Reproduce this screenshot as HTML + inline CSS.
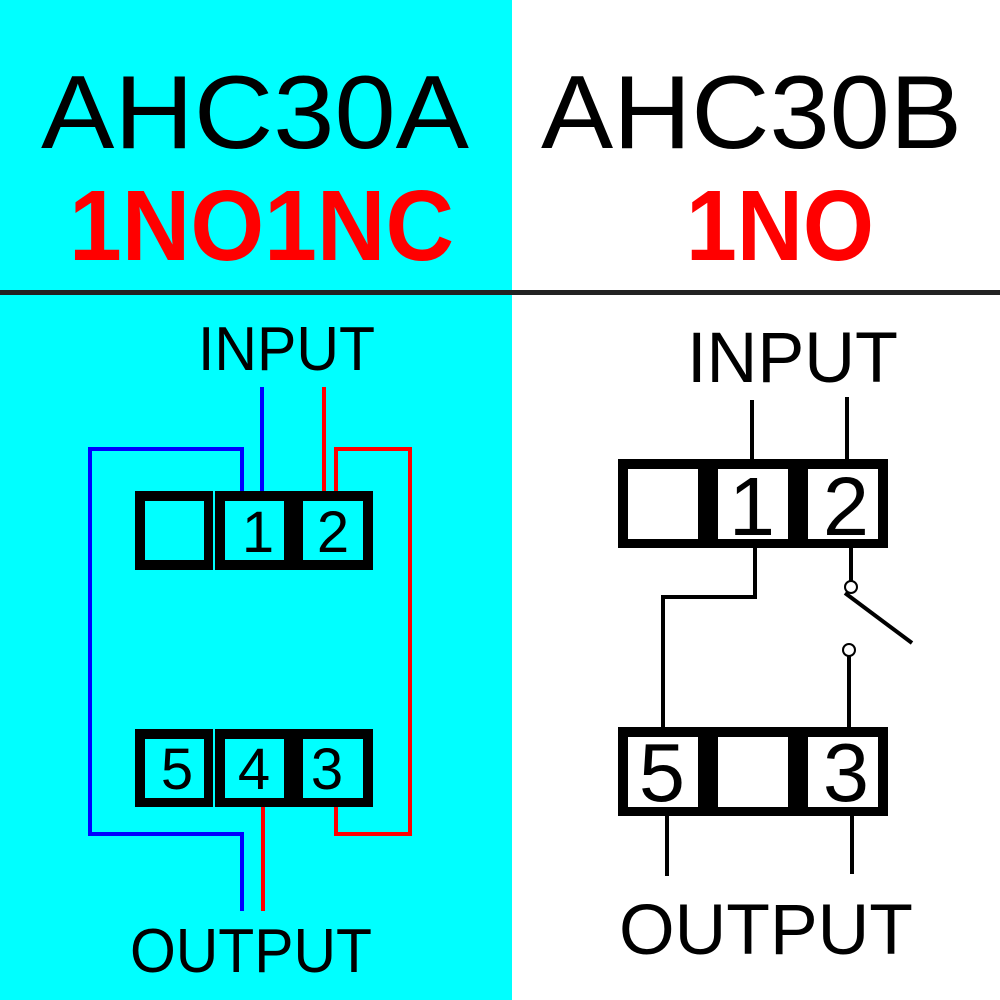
<!DOCTYPE html>
<html><head><meta charset="utf-8"><style>html,body{margin:0;padding:0;background:#fff}svg{display:block}</style></head>
<body>
<svg width="1000" height="1000" viewBox="0 0 1000 1000" xmlns="http://www.w3.org/2000/svg" font-family="Liberation Sans, Arial, sans-serif">
<rect x="0" y="0" width="512" height="1000" fill="#00ffff"/>
<rect x="0" y="290" width="1000" height="5" fill="#222"/>
<text x="41" y="148" font-size="104" textLength="428" lengthAdjust="spacingAndGlyphs">AHC30A</text>
<text x="541" y="148" font-size="104" textLength="421" lengthAdjust="spacingAndGlyphs">AHC30B</text>
<text x="69" y="260" font-size="100" font-weight="bold" fill="#ff0000" textLength="385" lengthAdjust="spacingAndGlyphs">1NO1NC</text>
<text x="686" y="260" font-size="100" font-weight="bold" fill="#ff0000" textLength="188" lengthAdjust="spacingAndGlyphs">1NO</text>

<!-- Left diagram -->
<text x="198" y="370" font-size="62" textLength="177" lengthAdjust="spacingAndGlyphs">INPUT</text>
<text x="130" y="972" font-size="62" textLength="242" lengthAdjust="spacingAndGlyphs">OUTPUT</text>
<g fill="none" stroke-width="4">
<polyline points="242,491 242,449 90,449 90,834 242,834 242,911" stroke="#0000ff"/>
<line x1="262" y1="387" x2="262" y2="491" stroke="#0000ff"/>
<line x1="324" y1="387" x2="324" y2="491" stroke="#ff0000"/>
<polyline points="336,491 336,449 410,449 410,834 336,834 336,807" stroke="#ff0000"/>
<line x1="263" y1="807" x2="263" y2="911" stroke="#ff0000"/>
</g>
<rect x="135" y="491" width="238" height="79" fill="#000"/>
<rect x="213" y="491" width="2" height="79" fill="#00ffff"/>
<rect x="145" y="501" width="59" height="59" fill="#00ffff"/>
<rect x="225" y="501" width="59" height="59" fill="#00ffff"/>
<rect x="303" y="501" width="60" height="59" fill="#00ffff"/>
<text x="258" y="552" font-size="58" text-anchor="middle">1</text>
<text x="333" y="552" font-size="58" text-anchor="middle">2</text>
<rect x="135" y="729" width="238" height="78" fill="#000"/>
<rect x="213" y="729" width="2" height="78" fill="#00ffff"/>
<rect x="145" y="739" width="59" height="59" fill="#00ffff"/>
<rect x="225" y="739" width="59" height="59" fill="#00ffff"/>
<rect x="303" y="739" width="60" height="59" fill="#00ffff"/>
<text x="177" y="789" font-size="58" text-anchor="middle">5</text>
<text x="254" y="789" font-size="58" text-anchor="middle">4</text>
<text x="327" y="789" font-size="58" text-anchor="middle">3</text>

<!-- Right diagram -->
<text x="687" y="382" font-size="71" textLength="211" lengthAdjust="spacingAndGlyphs">INPUT</text>
<text x="619" y="954" font-size="71" textLength="294" lengthAdjust="spacingAndGlyphs">OUTPUT</text>
<g stroke="#000" stroke-width="4" fill="none">
<line x1="752" y1="400" x2="752" y2="459"/>
<line x1="847" y1="397" x2="847" y2="459"/>
<polyline points="755,548 755,597 663,597 663,727"/>
<line x1="851" y1="548" x2="851" y2="581"/>
<line x1="845" y1="593" x2="912" y2="643"/>
<line x1="849" y1="656" x2="849" y2="727"/>
<line x1="667" y1="816" x2="667" y2="876"/>
<line x1="852" y1="816" x2="852" y2="874"/>
</g>
<circle cx="851" cy="587" r="6" fill="#fff" stroke="#000" stroke-width="2"/>
<circle cx="849" cy="650" r="6" fill="#fff" stroke="#000" stroke-width="2"/>
<rect x="618" y="459" width="270" height="89" fill="#000"/>
<rect x="628" y="469" width="70" height="70" fill="#fff"/>
<rect x="718" y="469" width="70" height="70" fill="#fff"/>
<rect x="808" y="469" width="70" height="70" fill="#fff"/>
<text x="752" y="535" font-size="83" text-anchor="middle">1</text>
<text x="846" y="535" font-size="83" text-anchor="middle">2</text>
<rect x="618" y="727" width="270" height="89" fill="#000"/>
<rect x="628" y="737" width="70" height="70" fill="#fff"/>
<rect x="718" y="737" width="70" height="70" fill="#fff"/>
<rect x="808" y="737" width="70" height="70" fill="#fff"/>
<text x="662" y="801" font-size="83" text-anchor="middle">5</text>
<text x="846" y="801" font-size="83" text-anchor="middle">3</text>
</svg>
</body></html>
